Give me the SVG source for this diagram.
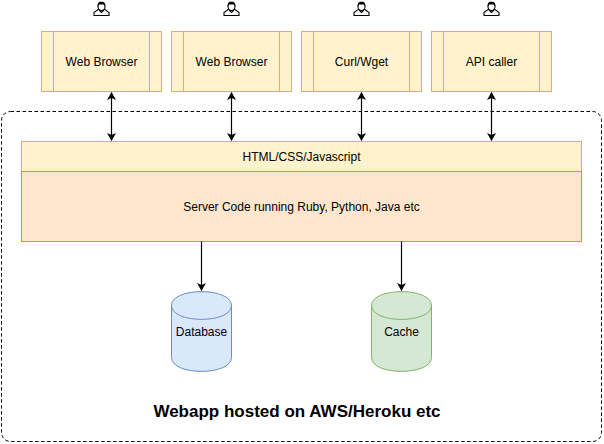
<svg xmlns="http://www.w3.org/2000/svg" width="604" height="444" viewBox="0 0 604 444">
<style>
text{font-family:"Liberation Sans",Arial,sans-serif;font-size:12px;fill:#000;text-anchor:middle}
.b{fill:#fff2cc;stroke:#d6b656}
.s{fill:#ffe6cc;stroke:#d79b00}
.l{stroke:#000;stroke-width:1.2;fill:none}
.ic{fill:#fff;stroke:#000;stroke-width:1.1}
.hd{fill:#000}
</style>
<defs>
<marker id="a" markerWidth="9" markerHeight="10" refX="7.5" refY="4.5" orient="auto-start-reverse" markerUnits="userSpaceOnUse"><path d="M0 0L8 4.5L0 9L2 4.5Z" fill="#000"/></marker>
<g id="user">
<path class="ic" d="M-7.500 14V11L-3.500 8H3.500L7.500 11V14Z"/>
<path class="ic" d="M-2.500 8.500L0 11L2.500 8.500"/>
<ellipse class="ic" cx="0" cy="5" rx="3.500" ry="4"/>
<path class="hd" d="M-3.800 5C-4.300 0.500 -1.500 0.200 0 0.200C1.500 0.200 4.300 0.500 3.800 5L2.200 3H-2.200Z"/>
</g>
</defs>
<rect id="boundary" x="1.500" y="111.500" width="600" height="330" rx="9" fill="#fff" stroke="#000" stroke-dasharray="3.500 2.500"/>
<g id="user1"><use href="#user" x="101.500" y="1.500"/></g>
<g id="user2"><use href="#user" x="231.500" y="1.500"/></g>
<g id="user3"><use href="#user" x="361.500" y="1.500"/></g>
<g id="user4"><use href="#user" x="491.500" y="1.500"/></g>
<g id="browser1"><rect class="b" x="41.5" y="31.5" width="120" height="60"/><path class="b" d="M53.5 31.5V91.5M149.5 31.5V91.5"/><text x="101.5" y="65.500">Web Browser</text></g>
<g id="browser2"><rect class="b" x="171.500" y="31.5" width="120" height="60"/><path class="b" d="M183.500 31.5V91.5M279.500 31.5V91.5"/><text x="231.500" y="65.500">Web Browser</text></g>
<g id="curl"><rect class="b" x="301.500" y="31.5" width="120" height="60"/><path class="b" d="M313.500 31.5V91.5M409.500 31.5V91.5"/><text x="361.500" y="65.500">Curl/Wget</text></g>
<g id="api"><rect class="b" x="431.500" y="31.5" width="120" height="60"/><path class="b" d="M443.500 31.5V91.5M539.500 31.5V91.5"/><text x="491.500" y="65.500">API caller</text></g>
<g id="frontend"><rect class="b" x="21.5" y="141.5" width="560" height="30"/><text x="301.500" y="160.500">HTML/CSS/Javascript</text></g>
<g id="server"><rect class="s" x="21.5" y="171.5" width="560" height="70"/><text x="301.500" y="210.500">Server Code running Ruby, Python, Java etc</text></g>
<g id="database"><path d="M171.500 305.500C171.500 287 231.500 287 231.500 305.500V357.500C231.500 376 171.500 376 171.500 357.500Z" fill="#dae8fc" stroke="#6c8ebf"/><path d="M171.500 305.500C171.500 324 231.500 324 231.500 305.500" fill="none" stroke="#6c8ebf"/><text x="201.500" y="335.500">Database</text></g>
<g id="cache"><path d="M371.500 305.500C371.500 287 431.500 287 431.500 305.500V357.500C431.500 376 371.500 376 371.500 357.500Z" fill="#d5e8d4" stroke="#82b366"/><path d="M371.500 305.500C371.500 324 431.500 324 431.500 305.500" fill="none" stroke="#82b366"/><text x="401.500" y="335.500">Cache</text></g>
<g id="connectors">
<path class="l" d="M111.500 92.500V140.500" marker-start="url(#a)" marker-end="url(#a)"/>
<path class="l" d="M231.500 92.500V140.500" marker-start="url(#a)" marker-end="url(#a)"/>
<path class="l" d="M361.500 92.500V140.500" marker-start="url(#a)" marker-end="url(#a)"/>
<path class="l" d="M491.500 92.500V140.500" marker-start="url(#a)" marker-end="url(#a)"/>
<path class="l" d="M201.500 241.500V290.500" marker-end="url(#a)"/>
<path class="l" d="M401.500 241.500V290.500" marker-end="url(#a)"/>
</g>
<text id="title" x="297" y="417" style="font-size:17px;font-weight:bold">Webapp hosted on AWS/Heroku etc</text>
</svg>
